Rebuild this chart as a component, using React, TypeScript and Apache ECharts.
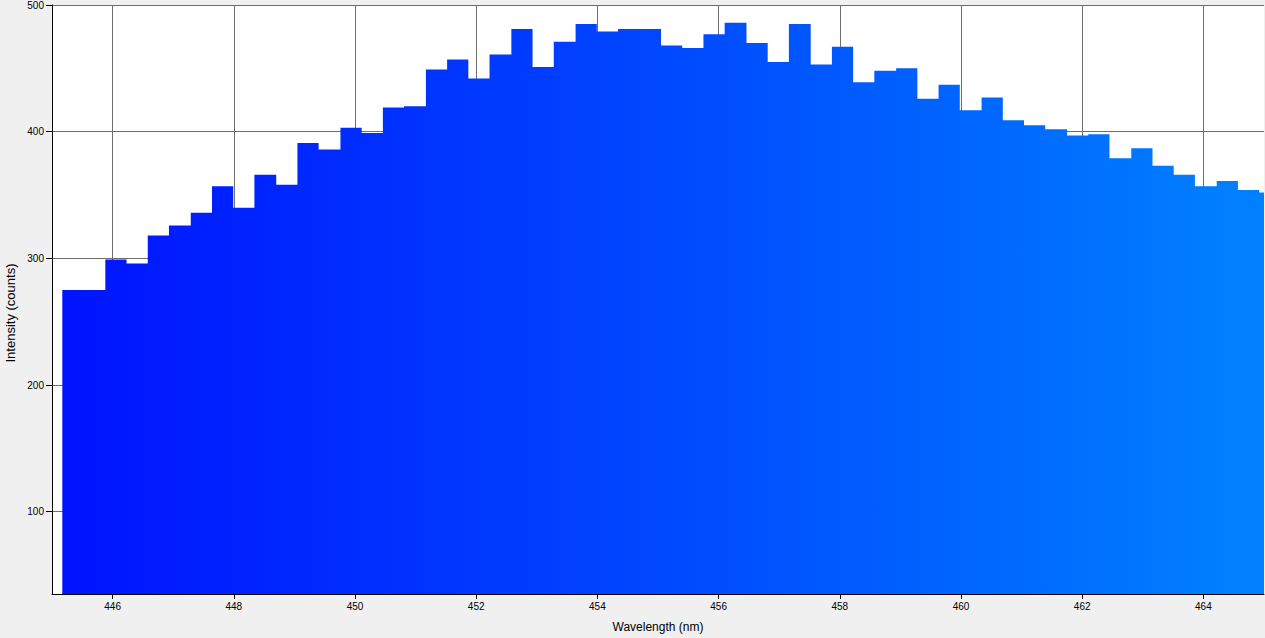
import React, { useEffect, useRef } from "react";
import * as echarts from "echarts";

// Left edge of each spectrometer bin (nm); the last entry closes the final bin
const binEdges = [
  445.17, 445.52, 445.88, 446.23, 446.58, 446.93, 447.29, 447.64, 447.99, 448.34,
  448.70, 449.05, 449.40, 449.76, 450.11, 450.46, 450.81, 451.17, 451.52, 451.87,
  452.22, 452.58, 452.93, 453.28, 453.64, 453.99, 454.34, 454.69, 455.05, 455.40,
  455.75, 456.10, 456.46, 456.81, 457.16, 457.52, 457.87, 458.22, 458.57, 458.93,
  459.28, 459.63, 459.98, 460.34, 460.69, 461.04, 461.39, 461.75, 462.10, 462.45,
  462.81, 463.16, 463.51, 463.86, 464.22, 464.57, 464.92, 465.27,
];

// Intensity (counts) per bin
const intensity = [
  275, 275, 299, 296, 318, 326, 336, 357, 340, 366,
  358, 391, 386, 403, 399, 419, 420, 449, 457, 442,
  461, 481, 451, 471, 485, 479, 481, 481, 468, 466,
  477, 486, 470, 455, 485, 453, 467, 439, 448, 450,
  426, 437, 417, 427, 409, 405, 402, 397, 398, 379,
  387, 373, 366, 357, 361, 354, 352,
];

const xTicks = [446, 448, 450, 452, 454, 456, 458, 460, 462, 464];
const yTicks = [100, 200, 300, 400, 500];

const X_MIN = 445;
const X_MAX = 465;
const Y_MIN = 35;
const Y_MAX = 500;

const FONT = "'Liberation Sans', Arial, sans-serif";

export default function App() {
  const ref = useRef<HTMLDivElement>(null);

  useEffect(() => {
    if (!ref.current) return;
    const chart = echarts.init(ref.current, null, { renderer: "svg" });

    const points: [number, number][] = intensity.map((v, i) => [binEdges[i], v]);
    points.push([binEdges[intensity.length], intensity[intensity.length - 1]]);

    const fill = new echarts.graphic.LinearGradient(
      52,
      0,
      1264,
      0,
      [
        { offset: 0, color: "#0012ff" },
        { offset: 0.5, color: "#0048ff" },
        { offset: 1, color: "#0082ff" },
      ],
      true
    );

    chart.setOption({
      animation: false,
      backgroundColor: "#f0f0f0",
      textStyle: { fontFamily: FONT },
      grid: {
        left: 52,
        top: 3,
        right: 1,
        bottom: 42,
        show: true,
        backgroundColor: "#ffffff",
        borderWidth: 0,
        containLabel: false,
      },
      xAxis: {
        type: "value",
        min: X_MIN,
        max: X_MAX,
        name: "Wavelength (nm)",
        nameLocation: "middle",
        nameGap: 27,
        nameTextStyle: { color: "#000", fontSize: 12, fontFamily: FONT },
        axisLine: { show: true, lineStyle: { color: "#000", width: 1 } },
        axisTick: {
          show: true,
          length: 5,
          lineStyle: { color: "#000" },
          customValues: xTicks,
        },
        axisLabel: {
          color: "#000",
          fontSize: 10,
          fontFamily: FONT,
          margin: 7,
          customValues: xTicks,
        },
        splitLine: { show: true, lineStyle: { color: "#6e6e6e", width: 1 } },
      },
      yAxis: {
        type: "value",
        min: Y_MIN,
        max: Y_MAX,
        axisLine: { show: true, lineStyle: { color: "#000", width: 1 } },
        axisTick: {
          show: true,
          length: 6,
          lineStyle: { color: "#000" },
          customValues: yTicks,
        },
        axisLabel: {
          color: "#000",
          fontSize: 10,
          fontFamily: FONT,
          margin: 8,
          customValues: yTicks,
        },
        splitLine: { show: true, lineStyle: { color: "#6e6e6e", width: 1 } },
      },
      graphic: [
        {
          type: "text",
          x: 10,
          y: 313,
          rotation: Math.PI / 2,
          style: {
            text: "Intensity (counts)",
            fill: "#000",
            font: `13px ${FONT}`,
            align: "center",
            verticalAlign: "middle",
          },
        },
      ],
      series: [
        {
          type: "line",
          data: points,
          step: "end",
          showSymbol: false,
          symbol: "none",
          lineStyle: { width: 0 },
          areaStyle: { color: fill, opacity: 1, origin: "start" },
          clip: true,
          silent: true,
        },
      ],
    });

    return () => chart.dispose();
  }, []);

  return (
    <div
      ref={ref}
      style={{ position: "fixed", left: 0, top: 0, width: 1265, height: 638 }}
    />
  );
}
